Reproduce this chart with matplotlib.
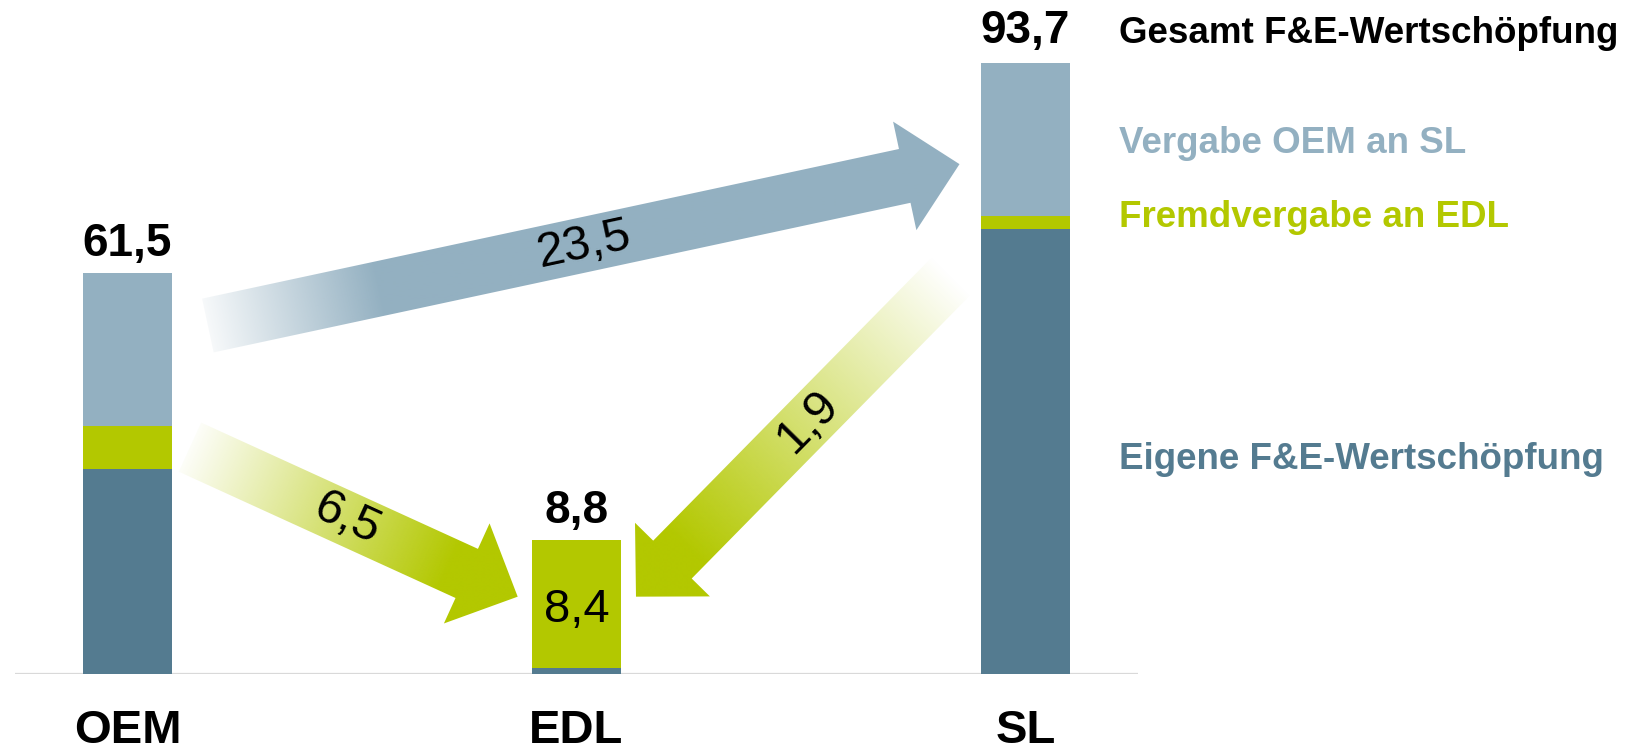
import numpy as np
import matplotlib
matplotlib.use("Agg")
import matplotlib.pyplot as plt
from matplotlib.patches import Polygon
from matplotlib.colors import to_rgb

plt.rcParams['font.family'] = ['Liberation Sans', 'DejaVu Sans']

# ---------------- data ----------------
categories = ["OEM", "EDL", "SL"]
eigene = [31.5, 0.4, 68.3]        # Eigene F&E-Wertschöpfung
fremd = [6.5, 8.4, 1.9]           # Fremdvergabe an EDL
vergabe = [23.5, 0.0, 23.5]       # Vergabe OEM an SL
total_labels = ["61,5", "8,8", "93,7"]
legend_labels = ["Gesamt F&E-Wertschöpfung", "Vergabe OEM an SL",
                 "Fremdvergabe an EDL", "Eigene F&E-Wertschöpfung"]
flow_values = [vergabe[0], fremd[0], fremd[2]]   # OEM->SL, OEM->EDL, SL->EDL

def fmt(v):
    return f"{v:.1f}".replace(".", ",")

# ---------------- style ----------------
C_LIGHT = "#93B0C1"
C_GREEN = "#B3C800"
C_DARK = "#547B90"
C_AXIS = "#D9D9D9"

W, H = 1637, 752
fig = plt.figure(figsize=(W / 100, H / 100), dpi=100)
fig.patch.set_facecolor("white")

ax = fig.add_axes([15.25 / W, 78 / H, (1137.75 - 15.25) / W, 660 / H])
ax.set_xlim(-0.25, 2.25)
ax.set_ylim(0, 660 / 6.52)
ax2 = ax.twinx()          # EDL bar is shown magnified in the original
ax2.set_ylim(0, 660 / 15.23)
for a in (ax, ax2):
    a.axis("off")
    a.patch.set_alpha(0)

ax.axhline(0, color=C_AXIS, lw=1.6, zorder=1)

bar_axes = [ax, ax2, ax]
width = 0.2
for i, cat in enumerate(categories):
    a = bar_axes[i]
    a.bar(i, eigene[i], width, color=C_DARK, zorder=2)
    a.bar(i, fremd[i], width, bottom=eigene[i], color=C_GREEN, zorder=2)
    if vergabe[i] > 0:
        a.bar(i, vergabe[i], width, bottom=eigene[i] + fremd[i], color=C_LIGHT, zorder=2)
    total = eigene[i] + fremd[i] + vergabe[i]
    off = 20 if i == 2 else 17
    a.annotate(total_labels[i], xy=(i, total), xytext=(0, off),
               textcoords="offset pixels", ha="center", va="baseline",
               fontsize=33, fontweight="bold", color="black", annotation_clip=False)
    ax.annotate(cat, xy=(i, 0), xytext=(0, -69), textcoords="offset pixels",
                ha="center", va="baseline", fontsize=34, fontweight="bold",
                color="black", annotation_clip=False)

# value inside EDL bar
ax2.annotate(fmt(fremd[1]), xy=(1, eigene[1] + fremd[1] / 2), xytext=(0, -18),
             textcoords="offset pixels", ha="center", va="baseline",
             fontsize=34, color="black")

# ---------------- overlay for arrows & legend ----------------
ov = fig.add_axes([0, 0, 1, 1], zorder=5)
ov.set_xlim(0, W)
ov.set_ylim(0, H)
ov.axis("off")
ov.patch.set_alpha(0)

def to_px(x, y):
    return np.array(ax.transData.transform((x, y)))

def arrow(tail, tip, color, label, frac, fade_start, fade_len,
          w=54, hw=108, hl=54, fs=35):
    T = to_px(*tail)
    P = to_px(*tip)
    d = (P - T) / np.linalg.norm(P - T)
    n = np.array([-d[1], d[0]])
    B = P - d * hl
    pts = np.array([T + n * w / 2, B + n * w / 2, B + n * hw / 2, P,
                    B - n * hw / 2, B - n * w / 2, T - n * w / 2])
    patch = Polygon(pts, closed=True, facecolor="none", edgecolor="none",
                    transform=ov.transData)
    ov.add_patch(patch)
    x0, y0 = np.floor(pts.min(axis=0)) - 2
    x1, y1 = np.ceil(pts.max(axis=0)) + 2
    xs = np.arange(x0, x1 + 1)
    ys = np.arange(y0, y1 + 1)
    X, Y = np.meshgrid(xs, ys)
    s = (X - T[0]) * d[0] + (Y - T[1]) * d[1]
    alpha = np.clip(fade_start + (1 - fade_start) * s / fade_len, 0, 1)
    img = np.zeros(X.shape + (4,))
    img[..., :3] = to_rgb(color)
    img[..., 3] = alpha
    im = ov.imshow(img, extent=[x0, x1, y0, y1], origin="lower",
                   interpolation="bilinear", aspect="auto", zorder=3)
    im.set_clip_path(patch)
    # label
    c = T + (P - T) * frac
    ang = np.degrees(np.arctan2(d[1], d[0]))
    if ang > 90:
        ang -= 180
    elif ang < -90:
        ang += 180
    ov.text(c[0], c[1], label, rotation=ang, rotation_mode="anchor",
            ha="center", va="center", fontsize=fs, color="black", zorder=4)

ov.set_xlim(0, W)
ov.set_ylim(0, H)

# OEM -> SL
arrow((0.179, 53.45), (1.853, 78.2), C_LIGHT, fmt(flow_values[0]), 0.50,
      0.08, 175, w=55, hw=111, hl=56)
# OEM -> EDL
arrow((0.139, 34.8), (0.869, 11.86), C_GREEN, fmt(flow_values[1]), 0.48,
      0.03, 285, w=54, hw=110, hl=56)
# SL -> EDL
arrow((1.837, 61.2), (1.1325, 11.86), C_GREEN, fmt(flow_values[2]), 0.456,
      0.0, 380, w=54, hw=105, hl=52)

# legend texts
leg_colors = ["black", C_LIGHT, C_GREEN, C_DARK]
leg_base = [43, 153.3, 226.7, 469.3]   # baseline, px from top
for lab, col, yb in zip(legend_labels, leg_colors, leg_base):
    ov.text(1119, H - yb, lab, ha="left", va="baseline", fontsize=26.5,
            fontweight="bold", color=col)

fig.savefig("out.png", dpi=100, facecolor="white")
